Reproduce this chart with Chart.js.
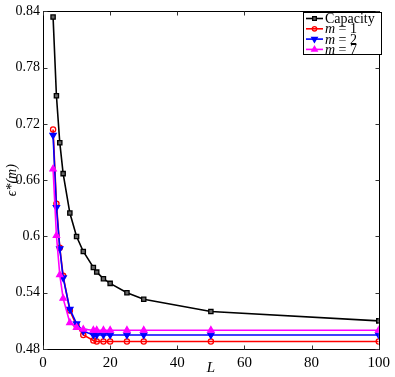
<!DOCTYPE html>
<html>
<head>
<meta charset="utf-8">
<script src="https://cdn.jsdelivr.net/npm/chart.js@4.4.1/dist/chart.umd.min.js"></script>
<style>
html,body{margin:0;padding:0;background:#fff;}
#wrap{width:395px;height:377px;}
</style>
</head>
<body>
<div id="wrap"><canvas id="c" width="395" height="377"></canvas></div>
<script>
const categoriesL = [3, 4, 5, 6, 8, 10, 12, 15, 16, 18, 20, 25, 30, 50, 100];
const capacity = [0.834, 0.750, 0.700, 0.667, 0.625, 0.600, 0.584, 0.567, 0.562, 0.555, 0.550, 0.540, 0.533, 0.520, 0.510];
const m1 = [0.714, 0.635, 0.588, 0.558, 0.521, 0.505, 0.495, 0.489, 0.488, 0.488, 0.488, 0.488, 0.488, 0.488, 0.488];
const m2 = [0.708, 0.631, 0.587, 0.556, 0.5225, 0.507, 0.499, 0.495, 0.495, 0.495, 0.495, 0.495, 0.495, 0.495, 0.495];
const m7 = [0.672, 0.601, 0.559, 0.534, 0.508, 0.503, 0.501, 0.500, 0.500, 0.500, 0.500, 0.500, 0.500, 0.500, 0.500];
const xTicks = [0, 20, 40, 60, 80, 100];
const yTicks = [0.48, 0.54, 0.6, 0.66, 0.72, 0.78, 0.84];
const seriesNames = ['Capacity', 'm = 1', 'm = 2', 'm = 7'];

const SERIF = '"Liberation Serif", "Times New Roman", serif';

function pts(vals) { return categoriesL.map((x, i) => ({x: x, y: vals[i]})); }

const styles = [
  {color: '#000000', point: 'rect', rot: 0, r: 3, fill: '#666666'},
  {color: '#ff0000', point: 'circle', rot: 0, r: 2.6, fill: 'rgba(255,255,255,0)'},
  {color: '#0000ff', point: 'triangle', rot: 180, r: 3.6, fill: '#0000ff'},
  {color: '#ff00ff', point: 'triangle', rot: 0, r: 3.6, fill: '#ff00ff'}
];
const allVals = [capacity, m1, m2, m7];

const datasets = allVals.map((v, i) => ({
  label: seriesNames[i],
  data: pts(v),
  order: 3 - i,
  borderColor: styles[i].color,
  backgroundColor: styles[i].fill,
  borderWidth: 1.6,
  pointStyle: styles[i].point,
  pointRotation: styles[i].rot,
  pointRadius: styles[i].r,
  pointBorderWidth: 1.3,
  pointBorderColor: styles[i].color,
  pointBackgroundColor: styles[i].fill,
  tension: 0,
  fill: false
}));

// draw frame, inward ticks, legend
const framePlugin = {
  id: 'frame',
  afterDatasetsDraw(chart) {
    const ctx = chart.ctx;
    const a = chart.chartArea;
    const xs = chart.scales.x, ys = chart.scales.y;
    ctx.save();
    ctx.strokeStyle = '#000';
    ctx.lineWidth = 1;
    const L = Math.round(a.left) + 0.5, R = Math.round(a.right) + 0.5;
    const T = Math.round(a.top) + 0.5, B = Math.round(a.bottom) + 0.5;
    ctx.strokeRect(L, T, R - L, B - T);
    const tl = 4;
    ctx.strokeStyle = '#333';
    ctx.beginPath();
    xTicks.forEach(v => {
      const px = Math.round(xs.getPixelForValue(v)) + 0.5;
      ctx.moveTo(px, B); ctx.lineTo(px, B - tl);
      ctx.moveTo(px, T); ctx.lineTo(px, T + tl);
    });
    yTicks.forEach(v => {
      const py = Math.round(ys.getPixelForValue(v)) + 0.5;
      ctx.moveTo(L, py); ctx.lineTo(L + tl, py);
      ctx.moveTo(R, py); ctx.lineTo(R - tl, py);
    });
    ctx.stroke();

    // legend
    const bx = 303.5, by = 12.5, bw = 78, bh = 42;
    ctx.fillStyle = '#fff';
    ctx.fillRect(bx, by, bw, bh);
    ctx.strokeStyle = '#000';
    ctx.lineWidth = 1;
    ctx.strokeRect(bx, by, bw, bh);
    const rowH = 10.3;
    for (let i = 0; i < 4; i++) {
      const cy = by + 6 + i * rowH;
      const st = styles[i];
      ctx.strokeStyle = st.color;
      ctx.lineWidth = 1.6;
      ctx.beginPath();
      ctx.moveTo(306, cy); ctx.lineTo(323, cy);
      ctx.stroke();
      ctx.lineWidth = 1.3;
      ctx.fillStyle = st.fill;
      Chart.helpers.drawPoint(ctx, {pointStyle: st.point, rotation: st.rot, radius: st.r - 0.4, borderWidth: 1.3}, 314.5, cy);
      ctx.fillStyle = '#000';
      ctx.textBaseline = 'middle';
      ctx.textAlign = 'left';
      if (i === 0) {
        ctx.font = '14px ' + SERIF;
        ctx.fillText(seriesNames[0], 325, cy + 1);
      } else {
        const parts = seriesNames[i].split(' ');
        ctx.font = 'italic 14px ' + SERIF;
        ctx.fillText(parts[0], 325, cy + 1);
        const w = ctx.measureText(parts[0]).width;
        ctx.font = '14px ' + SERIF;
        ctx.fillText(' ' + parts.slice(1).join(' '), 325 + w, cy + 1);
      }
    }
    ctx.restore();
  }
};

new Chart(document.getElementById('c'), {
  type: 'line',
  data: {datasets: datasets},
  options: {
    responsive: false,
    animation: false,
    layout: {padding: {top: 9, right: 12, left: 0, bottom: 0}},
    plugins: {legend: {display: false}, tooltip: {enabled: false}},
    scales: {
      x: {
        type: 'linear',
        min: 0, max: 100,
        afterBuildTicks: s => { s.ticks = xTicks.map(v => ({value: v})); },
        afterFit: s => { s.height = 28; },
        grid: {display: false, drawTicks: false},
        border: {display: false},
        ticks: {color: '#000', padding: 5, maxRotation: 0, font: {family: SERIF, size: 15}, callback: v => String(v)},
        title: {display: true, text: 'L', color: '#000', padding: {top: -8, bottom: 0}, font: {family: SERIF, size: 15, style: 'italic'}}
      },
      y: {
        type: 'linear',
        min: 0.48, max: 0.84,
        afterBuildTicks: s => { s.ticks = yTicks.map(v => ({value: v})); },
        afterFit: s => { s.width = 43; },
        grid: {display: false, drawTicks: false},
        border: {display: false},
        ticks: {color: '#000', padding: 3, font: {family: SERIF, size: 14}, callback: v => String(Number(v.toFixed(2)))},
        title: {display: true, text: 'ϵ*(m)', color: '#000', padding: {top: 4, bottom: 0}, font: {family: SERIF, size: 14, style: 'italic'}}
      }
    }
  },
  plugins: [framePlugin]
});
</script>
</body>
</html>
